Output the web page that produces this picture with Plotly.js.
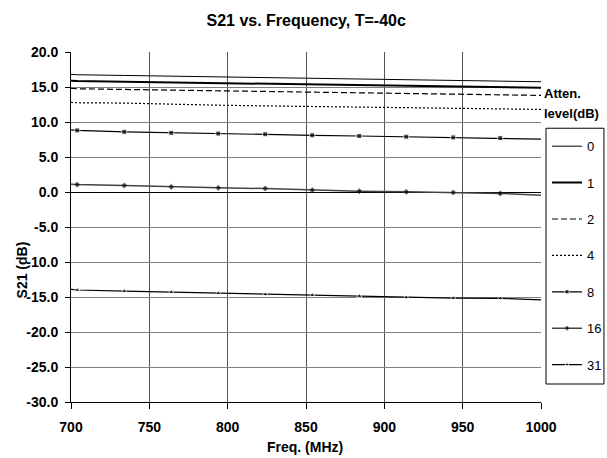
<!DOCTYPE html>
<html>
<head>
<meta charset="utf-8">
<script src="https://cdn.plot.ly/plotly-3.0.1.min.js"></script>
<style>html,body{margin:0;padding:0;background:#fff;}#chart{width:607px;height:458px;}</style>
</head>
<body>
<div id="chart"></div>
<script>
// Frequencies (MHz): line ends at 700/1000, measured points every 30 MHz
const freq = [700, 704, 734, 764, 794, 824, 854, 884, 914, 944, 974, 1000];
const atten0  = [16.8, 16.75, 16.65, 16.55, 16.45, 16.35, 16.2, 16.1, 16.0, 15.9, 15.85, 15.75];
const atten1  = [15.9, 15.85, 15.75, 15.65, 15.5, 15.4, 15.3, 15.2, 15.1, 15.0, 14.95, 14.9];
const atten2  = [14.8, 14.75, 14.65, 14.55, 14.45, 14.35, 14.25, 14.15, 14.05, 13.95, 13.85, 13.8];
const atten4  = [12.8, 12.75, 12.7, 12.5, 12.4, 12.3, 12.2, 12.1, 12.0, 11.9, 11.8, 11.8];
const atten8  = [8.87, 8.8, 8.6, 8.45, 8.35, 8.25, 8.1, 8.0, 7.9, 7.8, 7.7, 7.55];
const atten16 = [1.1, 1.06, 0.93, 0.73, 0.59, 0.5, 0.26, 0.12, 0.02, -0.07, -0.21, -0.45];
const atten31 = [-13.9, -14.0, -14.16, -14.3, -14.45, -14.63, -14.73, -14.87, -15.06, -15.16, -15.2, -15.4];
const seriesNames = ['0', '1', '2', '4', '8', '16', '31'];
const xTicks = [700, 750, 800, 850, 900, 950, 1000];
const yTicks = [-30, -25, -20, -15, -10, -5, 0, 5, 10, 15, 20];

const FONT = 'Liberation Sans, Arial, sans-serif';
const msz = s => freq.map((f, i) => (i === 0 || i === freq.length - 1) ? 0 : s);

const series = [atten0, atten1, atten2, atten4, atten8, atten16, atten31];
const styles = [
  {line: {color: '#000', width: 1}, mode: 'lines'},
  {line: {color: '#000', width: 2}, mode: 'lines'},
  {line: {color: '#000', width: 1.2, dash: '6px,3px'}, mode: 'lines'},
  {line: {color: '#000', width: 1.2, dash: '2px,2px'}, mode: 'lines'},
  {line: {color: '#000', width: 1.2}, mode: 'lines+markers', marker: {symbol: 'square', size: msz(5), color: '#000'}},
  {line: {color: '#444', width: 1.5}, mode: 'lines+markers', marker: {symbol: 'diamond', size: msz(4), color: '#000'}},
  {line: {color: '#000', width: 1.2}, mode: 'lines+markers', marker: {symbol: 'triangle-up', size: msz(5), color: '#000'}}
];

const traces = series.map((ys, i) => Object.assign({
  type: 'scatter', x: freq, y: ys, name: seriesNames[i], legendgroup: 'g' + i
}, styles[i]));

const PL = 70.7, PR = 541, PT = 51.7, PB = 402;
const px = x => (x - PL) / (PR - PL);
const py = y => (PB - y) / (PB - PT);

const layout = {
  width: 607, height: 458, autosize: false,
  margin: {l: PL, r: 607 - PR, t: PT, b: 458 - PB, pad: 0, autoexpand: false},
  paper_bgcolor: '#fff', plot_bgcolor: '#fff',
  font: {family: FONT, size: 13, color: '#000'},
  title: {text: '<b>S21 vs. Frequency, T=-40c</b>', font: {family: FONT, size: 16, color: '#000'},
          x: px(306), xanchor: 'center', xref: 'paper', y: 1 - 20/458, yanchor: 'middle', yref: 'container'},
  xaxis: {range: [700, 1000], tickvals: xTicks, ticktext: xTicks.map(v => '<b>' + v + '</b>'),
          showgrid: true, gridcolor: '#555', gridwidth: 1, zeroline: false,
          showline: true, linecolor: '#000', linewidth: 1, ticks: 'outside', ticklen: 6, tickcolor: '#000',
          ticklabelstandoff: 6,
          tickfont: {family: FONT, size: 14, color: '#000'}, fixedrange: true},
  yaxis: {range: [-30, 20], tickvals: yTicks, ticktext: yTicks.map(v => '<b>' + v.toFixed(1) + '</b>'),
          showgrid: true, gridcolor: '#808080', gridwidth: 1,
          zeroline: true, zerolinecolor: '#000', zerolinewidth: 1,
          showline: true, linecolor: '#000', linewidth: 1, ticks: 'outside', ticklen: 5, tickcolor: '#000',
          ticklabelstandoff: 4,
          tickfont: {family: FONT, size: 14, color: '#000'}, fixedrange: true},
  showlegend: true,
  legend: {x: px(547), xanchor: 'left', y: py(131), yanchor: 'top',
           bgcolor: 'rgba(0,0,0,0)', borderwidth: 0,
           font: {family: FONT, size: 13, color: '#000'}, itemwidth: 30,
           traceorder: 'grouped', tracegroupgap: 16.5},
  shapes: [
    {type: 'rect', xref: 'paper', yref: 'paper', x0: px(546), x1: px(604), y0: py(128), y1: py(384),
     line: {color: '#000', width: 1}, fillcolor: 'rgba(0,0,0,0)', layer: 'above'}
  ],
  annotations: [
    {text: '<b>Atten.</b>', xref: 'paper', yref: 'paper', x: px(542), y: py(93),
     xanchor: 'left', yanchor: 'middle', showarrow: false, font: {family: FONT, size: 13, color: '#000'}},
    {text: '<b>level(dB)</b>', xref: 'paper', yref: 'paper', x: px(542), y: py(113),
     xanchor: 'left', yanchor: 'middle', showarrow: false, font: {family: FONT, size: 13, color: '#000'}},
    {text: '<b>S21 (dB)</b>', xref: 'paper', yref: 'paper', x: px(22), y: py(270),
     xanchor: 'center', yanchor: 'middle', textangle: -90, showarrow: false, font: {family: FONT, size: 14, color: '#000'}},
    {text: '<b>Freq. (MHz)</b>', xref: 'paper', yref: 'paper', x: px(305), y: py(447),
     xanchor: 'center', yanchor: 'middle', showarrow: false, font: {family: FONT, size: 14, color: '#000'}}
  ]
};

Plotly.newPlot('chart', traces, layout, {displayModeBar: false, staticPlot: true});
</script>
</body>
</html>
